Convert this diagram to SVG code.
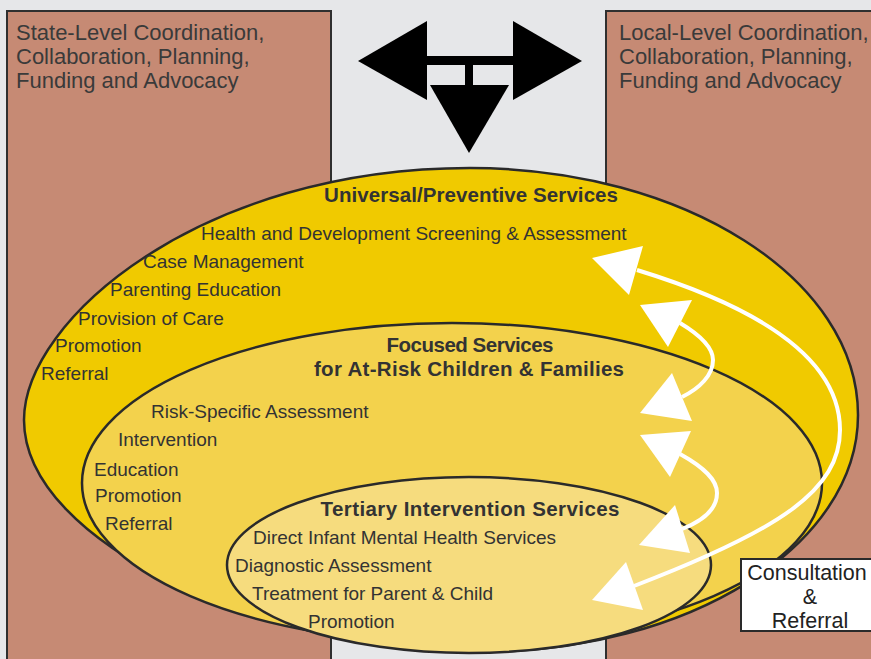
<svg xmlns="http://www.w3.org/2000/svg" width="871" height="659" viewBox="0 0 871 659">
<style>
.panel{fill:#C68A74;stroke:#2f2f2f;stroke-width:2}
.ell{stroke:#2a2a2a;stroke-width:2.5}
.t{font-family:"Liberation Sans",Arial,sans-serif;font-size:19px;fill:#333}
.h{font-family:"Liberation Sans",Arial,sans-serif;font-size:20.5px;font-weight:bold;fill:#333;text-anchor:middle}
.pt{font-family:"Liberation Sans",Arial,sans-serif;font-size:22px;fill:#3a3a3a}
.ct{font-family:"Liberation Sans",Arial,sans-serif;font-size:21.5px;fill:#222;text-anchor:middle}
.wl{fill:none;stroke:#fff;stroke-width:4}
.wh{fill:#fff}
.bk{fill:#000}
</style>
<rect x="0" y="0" width="871" height="659" fill="#E6E7E9"/>
<g id="state-panel">
<rect class="panel" x="7" y="11" width="324" height="660"/>
<text class="pt" x="16" y="40">State-Level Coordination,</text>
<text class="pt" x="16" y="64">Collaboration, Planning,</text>
<text class="pt" x="16" y="88">Funding and Advocacy</text>
</g>
<g id="local-panel">
<rect class="panel" x="606" y="11" width="280" height="660"/>
<text class="pt" x="619" y="40">Local-Level Coordination,</text>
<text class="pt" x="619" y="64">Collaboration, Planning,</text>
<text class="pt" x="619" y="88">Funding and Advocacy</text>
</g>
<g id="universal">
<path class="ell" fill="#F0CA00" d="M24,420 C24,320 200,168 470,168 C684,168 858,279 858,415 C858,546 689,652 480,652 C270,652 24,545 24,420 Z"/>
<text class="h" x="471" y="202" textLength="294">Universal/Preventive Services</text>
<text class="t" x="201" y="240">Health and Development Screening &amp; Assessment</text>
<text class="t" x="143" y="268">Case Management</text>
<text class="t" x="110" y="296">Parenting Education</text>
<text class="t" x="78" y="325">Provision of Care</text>
<text class="t" x="55" y="352">Promotion</text>
<text class="t" x="41" y="380">Referral</text>
</g>
<g id="focused">
<ellipse class="ell" cx="452" cy="483" rx="370" ry="160" fill="#F3D24C"/>
<text class="h" x="470" y="352" textLength="167">Focused Services</text>
<text class="h" x="469" y="376" textLength="310">for At-Risk Children &amp; Families</text>
<text class="t" x="151" y="418">Risk-Specific Assessment</text>
<text class="t" x="118" y="446">Intervention</text>
<text class="t" x="94" y="476">Education</text>
<text class="t" x="95" y="502">Promotion</text>
<text class="t" x="105" y="530">Referral</text>
</g>
<g id="tertiary">
<ellipse class="ell" cx="469" cy="565" rx="242" ry="88" fill="#F6DC7E"/>
<text class="h" x="470" y="516" textLength="299">Tertiary Intervention Services</text>
<text class="t" x="253" y="544">Direct Infant Mental Health Services</text>
<text class="t" x="235" y="572">Diagnostic Assessment</text>
<text class="t" x="252" y="600">Treatment for Parent &amp; Child</text>
<text class="t" x="308" y="628">Promotion</text>
</g>
<g id="consultation">
<rect x="741" y="559" width="140" height="72" fill="#fff" stroke="#2a2a2a" stroke-width="2"/>
<text class="ct" x="807" y="580">Consultation</text>
<text class="ct" x="810" y="604">&amp;</text>
<text class="ct" x="810" y="628">Referral</text>
</g>
<g id="connectors">
<g id="top-arrow">
<polygon class="bk" points="358,61 427,21 427,100"/>
<polygon class="bk" points="582,61 513,21 513,100"/>
<rect class="bk" x="426" y="56" width="88" height="9"/>
<rect class="bk" x="465" y="64" width="8" height="22"/>
<polygon class="bk" points="430,85 509,85 469,153"/>
</g>
<g id="outer-arrow">
<path class="wl" d="M637,270 C800,320 840,380 840,430 C840,490 780,530 634,586"/>
<polygon class="wh" points="592,258 643,246 629,295"/>
<polygon class="wh" points="592,600 626,562 643,610"/>
</g>
<g id="upper-arrow">
<path class="wl" d="M680,323 C705,338 713,350 713,360 C713,375 700,388 682,397"/>
<polygon class="wh" points="640,305 692,300 668,347"/>
<polygon class="wh" points="640,413 672,373 692,421"/>
</g>
<g id="lower-arrow">
<path class="wl" d="M680,454 C705,468 717,480 717,493 C717,508 705,520 682,529"/>
<polygon class="wh" points="640,435 691,431 670,477"/>
<polygon class="wh" points="639,545 675,505 690,553"/>
</g>
</g>
</svg>
